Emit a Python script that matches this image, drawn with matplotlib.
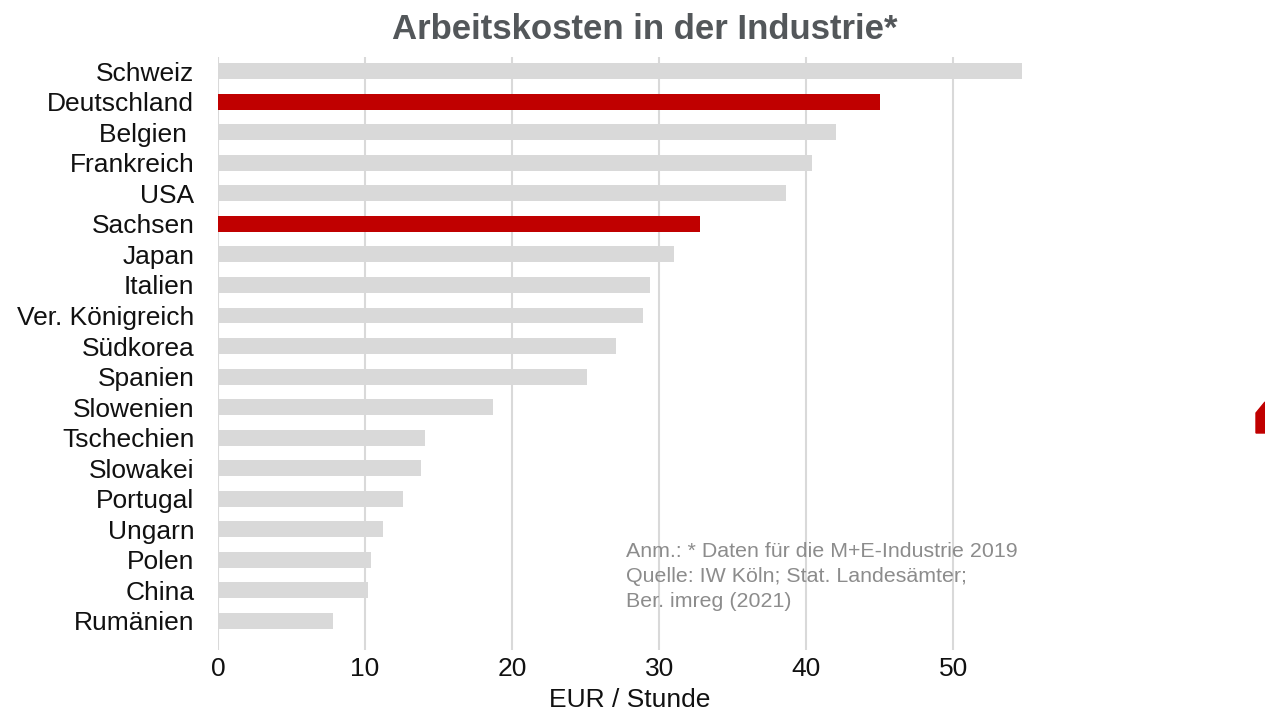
import matplotlib.pyplot as plt
from matplotlib.patches import Polygon

plt.rcParams['font.family'] = ['Liberation Sans', 'DejaVu Sans']

# Daten (EUR je Stunde)
laender = ["Schweiz", "Deutschland", "Belgien ", "Frankreich", "USA", "Sachsen",
           "Japan", "Italien", "Ver. Königreich", "Südkorea", "Spanien",
           "Slowenien", "Tschechien", "Slowakei", "Portugal", "Ungarn",
           "Polen", "China", "Rumänien"]
kosten = [54.7, 45.0, 42.0, 40.4, 38.6, 32.8, 31.0, 29.4, 28.9, 27.1, 25.1,
          18.7, 14.1, 13.8, 12.6, 11.2, 10.4, 10.2, 7.8]
hervorgehoben = ["Deutschland", "Sachsen"]
xticks = [0, 10, 20, 30, 40, 50]

grau = "#D9D9D9"
rot = "#C00000"
farben = [rot if l in hervorgehoben else grau for l in laender]

fig = plt.figure(figsize=(12.65, 7.11), dpi=100)
ax = fig.add_axes([0.1723, 0.0858, 0.651, 0.834])

pos = list(range(len(laender)))
ax.barh(pos, kosten, height=0.52, color=farben, zorder=2)

ax.set_xlim(0, 56)
ax.set_ylim(18.95, -0.46)
ax.set_yticks(pos)
ax.set_yticklabels(laender, fontsize=19, color="#111111")
ax.set_xticks(xticks)
ax.set_xticklabels([str(t) for t in xticks], fontsize=19, color="#111111")
ax.tick_params(axis='both', length=0)
ax.tick_params(axis='y', pad=17)
ax.tick_params(axis='x', pad=5)
ax.grid(axis='x', color=grau, linewidth=1.5, zorder=0)
for s in ax.spines.values():
    s.set_visible(False)

ax.set_xlabel("EUR / Stunde", fontsize=19, color="#111111", labelpad=5)

fig.text(0.51, 0.958, "Arbeitskosten in der Industrie*", ha='center', va='center',
         fontsize=25, fontweight='bold', color="#53575A")

ax.text(27.75, 16.55, "Anm.: * Daten für die M+E-Industrie 2019\nQuelle: IW Köln; Stat. Landesämter;\nBer. imreg (2021)",
        fontsize=15.4, color="#8C8C8C", va='center', ha='left', linespacing=1.4)

# Logo-Rest am rechten Rand
fig.patches.append(Polygon([(1256, 278), (1256, 298), (1265, 309), (1265, 278)],
                           closed=True, transform=None, color=rot))

fig.savefig("out.png", dpi=100)
